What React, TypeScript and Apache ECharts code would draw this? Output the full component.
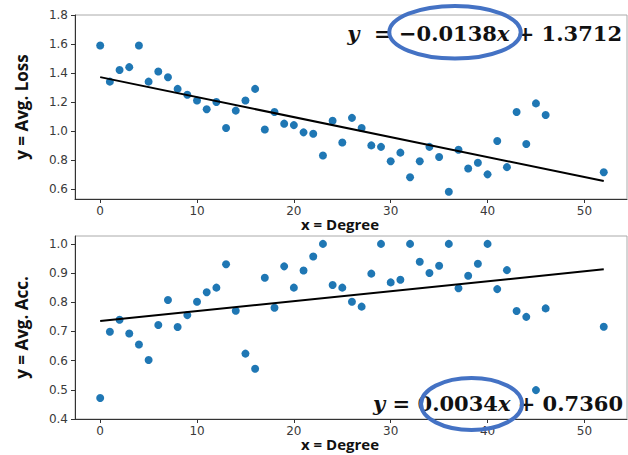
import React, { useEffect, useRef } from "react";
import * as echarts from "echarts";

const degrees = [0,1,2,3,4,5,6,7,8,9,10,11,12,13,14,15,16,17,18,19,20,21,22,23,24,25,26,27,28,29,30,31,32,33,34,35,36,37,38,39,40,41,42,43,44,45,46,52];
const avgLoss = [1.59,1.34,1.42,1.44,1.59,1.34,1.41,1.37,1.29,1.25,1.21,1.15,1.2,1.02,1.14,1.21,1.29,1.01,1.13,1.05,1.04,0.99,0.98,0.83,1.07,0.92,1.09,1.02,0.9,0.89,0.79,0.85,0.68,0.79,0.89,0.82,0.58,0.87,0.74,0.78,0.7,0.93,0.75,1.13,0.91,1.19,1.11,0.715];
const avgAcc = [0.472,0.699,0.74,0.693,0.655,0.602,0.722,0.808,0.715,0.756,0.802,0.834,0.85,0.93,0.771,0.624,0.572,0.884,0.781,0.923,0.85,0.909,0.957,1.0,0.859,0.85,0.802,0.785,0.898,1.0,0.868,0.877,1.0,0.939,0.9,0.925,1.0,0.848,0.891,0.932,1.0,0.845,0.91,0.77,0.75,0.499,0.779,0.716];
const lossFit = [[0, 1.3712], [52, 0.6536]];
const accFit = [[0, 0.736], [52, 0.9128]];
const xTicks = [0, 10, 20, 30, 40, 50];
const lossTicks = [0.6, 0.8, 1.0, 1.2, 1.4, 1.6, 1.8];
const accTicks = [0.4, 0.5, 0.6, 0.7, 0.8, 0.9, 1.0];

export default function App() {
  const ref = useRef<HTMLDivElement>(null);
  useEffect(() => {
    if (!ref.current) return;
    const chart = echarts.init(ref.current, null, { renderer: "svg" });
    const tickFont = { fontFamily: "DejaVu Sans", fontSize: 12, color: "#3a3a3a" };
    const xAxisBase = (gridIndex: number) => ({
      type: "value",
      gridIndex,
      min: -2.6,
      max: 54.4,
      splitLine: { show: false },
      axisLine: { show: true, onZero: false, lineStyle: { color: "#333", width: 1 } },
      axisTick: { show: true, inside: false, length: 4, customValues: xTicks, lineStyle: { color: "#333" } },
      axisLabel: { ...tickFont, margin: 6, customValues: xTicks, formatter: (v: number) => String(v) },
    });
    const yAxisBase = (gridIndex: number, min: number, max: number, ticks: number[], name: string) => ({
      type: "value",
      gridIndex,
      min,
      max,
      name,
      nameLocation: "middle",
      nameGap: 45,
      nameRotate: 90,
      nameTextStyle: { fontFamily: "Open Sans", fontWeight: "bold", fontSize: 17, color: "#111" },
      splitLine: { show: false },
      axisLine: { show: true, onZero: false, lineStyle: { color: "#333", width: 1 } },
      axisTick: { show: true, inside: false, length: 4, customValues: ticks, lineStyle: { color: "#333" } },
      axisLabel: { ...tickFont, margin: 7, customValues: ticks, formatter: (v: number) => v.toFixed(1) },
    });
    const eqStyle = {
      fontFamily: "DejaVu Serif",
      fontWeight: "bold",
      fontSize: 21,
      fill: "#111",
      rich: {
        i: { fontFamily: "DejaVu Serif", fontWeight: "bold", fontStyle: "italic", fontSize: 21, color: "#111" },
        n: { fontFamily: "DejaVu Serif", fontWeight: "bold", fontSize: 21, color: "#111" },
      },
    };
    const scatterStyle = { color: "#1f77b4", opacity: 1 };
    const xNameStyle = { text: "x = Degree", fontFamily: "Open Sans", fontWeight: "bold", fontSize: 15, fill: "#111", align: "center", verticalAlign: "middle" };
    chart.setOption({
      animation: false,
      grid: [
        { left: 75, top: 15, width: 552, height: 184, show: true, borderColor: "#aaa", borderWidth: 1, backgroundColor: "transparent" },
        { left: 75, top: 236, width: 552, height: 183, show: true, borderColor: "#aaa", borderWidth: 1, backgroundColor: "transparent" },
      ],
      xAxis: [xAxisBase(0), xAxisBase(1)],
      yAxis: [
        yAxisBase(0, 0.53, 1.8, lossTicks, "y = Avg. Loss"),
        yAxisBase(1, 0.4, 1.027, accTicks, "y = Avg. Acc."),
      ],
      series: [
        { type: "scatter", xAxisIndex: 0, yAxisIndex: 0, symbolSize: 8, itemStyle: scatterStyle, data: degrees.map((d, i) => [d, avgLoss[i]]) },
        { type: "line", xAxisIndex: 0, yAxisIndex: 0, symbol: "none", lineStyle: { color: "#000", width: 2 }, data: lossFit },
        { type: "scatter", xAxisIndex: 1, yAxisIndex: 1, symbolSize: 8, itemStyle: scatterStyle, data: degrees.map((d, i) => [d, avgAcc[i]]) },
        { type: "line", xAxisIndex: 1, yAxisIndex: 1, symbol: "none", lineStyle: { color: "#000", width: 2 }, data: accFit },
      ],
      graphic: [
        { type: "text", x: 340, y: 224, style: xNameStyle },
        { type: "text", x: 340, y: 444, style: xNameStyle },
        { type: "text", x: 622, y: 33, style: { ...eqStyle, text: "{i|y}{n|  = −0.0138}{i|x}{n| + 1.3712}", align: "right", verticalAlign: "middle" } },
        { type: "text", x: 623, y: 403, style: { ...eqStyle, text: "{i|y}{n| = 0.0034}{i|x}{n| + 0.7360}", align: "right", verticalAlign: "middle" } },
        { type: "ellipse", shape: { cx: 455, cy: 32.3, rx: 65.7, ry: 26.3 }, style: { fill: "none", stroke: "#4472C4", lineWidth: 4 }, z: 10 },
        { type: "ellipse", shape: { cx: 471.5, cy: 404, rx: 50.5, ry: 26 }, style: { fill: "none", stroke: "#4472C4", lineWidth: 4 }, z: 10 },
      ],
    });
    return () => chart.dispose();
  }, []);
  return <div ref={ref} style={{ width: 628, height: 455, position: "absolute", left: 0, top: 0, background: "#fff" }} />;
}
